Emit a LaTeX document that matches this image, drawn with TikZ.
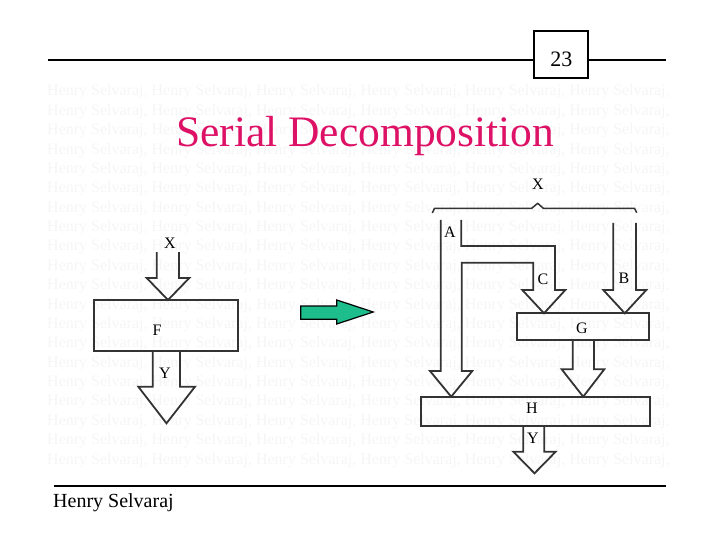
\documentclass[tikz,border=0pt]{standalone}
\usepackage{fontspec}
\setmainfont{Liberation Serif}
\definecolor{titlered}{RGB}{221,17,102}
\definecolor{arrowgray}{RGB}{51,51,51}
\definecolor{teal}{RGB}{30,190,140}
\begin{document}
\begin{tikzpicture}[x=1pt,y=-1pt,
  rule/.style={line width=2pt,black},
  blockarrow/.style={line width=1.8pt,draw=arrowgray,line join=miter},
  blockbox/.style={line width=1.8pt,draw=arrowgray},
  lbl/.style={inner sep=0pt,font=\fontsize{16}{18}\selectfont},
  wmark/.style={anchor=base west,inner sep=0pt,text=black!4,font=\fontsize{16}{18}\selectfont}]
\useasboundingbox (0,0) rectangle (720,540);
% watermark
\foreach \r in {0,...,19}{
  \node[wmark] (wm\r) at (47,{96+19.37*\r}) {Henry Selvaraj, Henry Selvaraj, Henry Selvaraj, Henry Selvaraj, Henry Selvaraj, Henry Selvaraj,};
}
% header
\coordinate (tl) at (48,60);
\coordinate (tr) at (666,60);
\node[draw,rule,minimum width=54pt,minimum height=47.6pt,inner sep=0pt,fill=white] (pg) at (561.3,54.5) {};
\node[anchor=base,inner sep=0pt,font=\fontsize{22}{24}\selectfont] (pgnum) at (561.3,67) {23};
\draw[rule] (tl) -- (tl -| pg.west);
\draw[rule] (tr -| pg.east) -- (tr);
% title
\node[anchor=base west,inner sep=0pt,text=titlered,font=\fontsize{43.5}{48}\selectfont] (title) at (176,146.7) {Serial Decomposition};
% footer
\coordinate (fl) at (54,486);
\coordinate (fr) at (666,486);
\draw[rule] (fl) -- (fr);
\node[anchor=base west,inner sep=0pt,font=\fontsize{20}{22}\selectfont] (author) at (53,507) {Henry Selvaraj};
% left diagram
\draw[blockarrow] (156.7,252) -- (156.7,278) -- (146.7,278) -- (168,300) -- (189.3,278) -- (179,278) -- (179,252);
\node[blockbox,fill=none,minimum width=143.4pt,minimum height=50.7pt,inner sep=0pt] (F) at (166,325.35) {};
\draw[blockarrow] (152.7,350.7) -- (152.7,386.7) -- (138.3,386.7) -- (166.5,423.3) -- (195,386.7) -- (180,386.7) -- (180,350.7);
\node[lbl] (xl) at (170,243) {X};
\node[lbl] (fl2) at (157,330) {F};
\node[lbl] (yl) at (165,373) {Y};
% green arrow
\draw[line width=1.2pt,fill=teal,line join=miter] (300.7,306) -- (336.7,306) -- (336.7,300) -- (373.3,312) -- (336.7,324) -- (336.7,319.3) -- (300.7,319.3) -- cycle;
% right diagram
\draw[line width=1.5pt,arrowgray,line join=round] (432.3,213) -- (434.5,208.3) -- (531.7,208.3) -- (537.7,203.3) -- (543.3,208.3) -- (634.5,208.3) -- (636.7,212.7);
\node[blockbox,minimum width=132.6pt,minimum height=26.7pt,inner sep=0pt] (G) at (583,326.65) {};
\node[blockbox,minimum width=229pt,minimum height=29.3pt,inner sep=0pt] (H) at (535.5,411.35) {};
% A and C
\draw[blockarrow] (440.7,220) -- (440.7,371) -- (430,371) -- (451.2,396.7) -- (472.3,371) -- (461.7,371) -- (461.7,262.7) -- (533.3,262.7) -- (533.3,290) -- (522.3,290) -- (544,313.3) -- (565.3,290) -- (555,290) -- (555,246) -- (461.2,246) -- (461.2,220);
% B
\draw[blockarrow] (613.3,223) -- (613.3,290) -- (603.3,290) -- (624.8,313.3) -- (646.3,290) -- (636,290) -- (636,223);
% G to H
\draw[blockarrow] (572.7,340) -- (572.7,369.3) -- (561.7,369.3) -- (583.2,396.7) -- (604.3,369.3) -- (594,369.3) -- (594,340);
% Y out
\draw[blockarrow] (523.3,426) -- (523.3,451.7) -- (513.3,451.7) -- (534.5,473.3) -- (555.7,451.7) -- (544.3,451.7) -- (544.3,426);
\node[lbl] (xr) at (538,184) {X};
\node[lbl] (al) at (450,232) {A};
\node[lbl] (cl) at (543,279) {C};
\node[lbl] (bl) at (624,278) {B};
\node[lbl] (gl) at (582,328) {G};
\node[lbl] (hl) at (532,408) {H};
\node[lbl] (yr) at (533,438) {Y};
\end{tikzpicture}
\end{document}
